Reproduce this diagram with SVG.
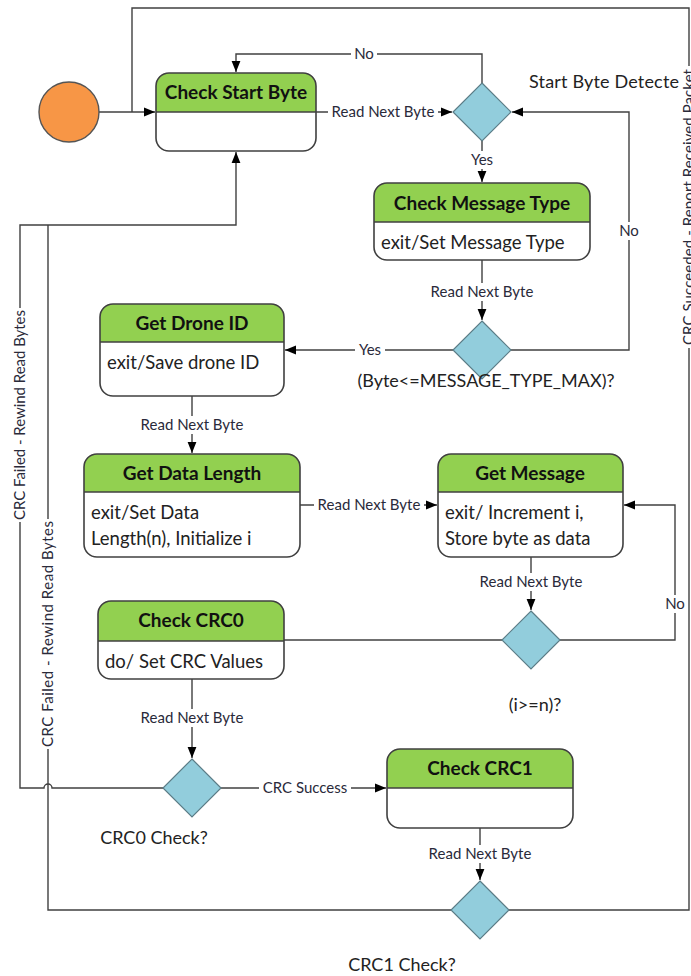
<svg xmlns="http://www.w3.org/2000/svg" width="691" height="976" viewBox="0 0 691 976">
<style>
.bg{fill:#ffffff}
.box{fill:none;stroke:#404040;stroke-width:1.6}
.body{fill:#ffffff;stroke:none}
.hdr{fill:#92D050;stroke:none}
.div{stroke:#404040;stroke-width:1.4}
.dia{fill:#92CDDC;stroke:#5b7c86;stroke-width:1.2}
.ln{fill:none;stroke:#404040;stroke-width:1.4}
.ttl{font-family:Lato,"Liberation Sans",sans-serif;font-weight:bold;font-size:19px;fill:#111;text-anchor:middle}
.txt{font-family:Lato,"Liberation Sans",sans-serif;font-size:18.5px;fill:#222}
.lbl{font-family:Lato,"Liberation Sans",sans-serif;font-size:15px;fill:#2a2a3a;text-anchor:middle}
.big{font-family:Lato,"Liberation Sans",sans-serif;font-size:18px;fill:#222}
.lb{fill:#ffffff}
</style>
<defs>
<marker id="arr" viewBox="0 0 10 10" refX="10" refY="5" markerWidth="11" markerHeight="11" markerUnits="userSpaceOnUse" orient="auto">
<path d="M0,1 L10,5 L0,9 z" fill="#000"/>
</marker>
</defs>
<rect class="bg" x="0" y="0" width="691" height="976"/>

<g id="connectors">
<path class="ln" d="M99,112 H155" marker-end="url(#arr)"/>
<path class="ln" d="M316,112 H452" marker-end="url(#arr)"/>
<path class="ln" d="M482,83 V54 H236 V72" marker-end="url(#arr)"/>
<path class="ln" d="M482,141 V182" marker-end="url(#arr)"/>
<path class="ln" d="M482,260 V320" marker-end="url(#arr)"/>
<path class="ln" d="M511,350 H629 V112 H512" marker-end="url(#arr)"/>
<path class="ln" d="M453,350 H285" marker-end="url(#arr)"/>
<path class="ln" d="M192,396 V453" marker-end="url(#arr)"/>
<path class="ln" d="M300,505 H437" marker-end="url(#arr)"/>
<path class="ln" d="M531,557 V610" marker-end="url(#arr)"/>
<path class="ln" d="M560,640 H675 V505 H624" marker-end="url(#arr)"/>
<path class="ln" d="M502,640 H284"/>
<path class="ln" d="M192,679 V758" marker-end="url(#arr)"/>
<path class="ln" d="M221,788 H386" marker-end="url(#arr)"/>
<path class="ln" d="M163,788 H52 A4,4 0 0 0 44,788 H20 V225 H236 V152" marker-end="url(#arr)"/>
<path class="ln" d="M480,828 V880" marker-end="url(#arr)"/>
<path class="ln" d="M451,910 H48 V225"/>
<path class="ln" d="M509,910 H689 V8 H132 V112"/>

<rect class="lb" x="328" y="103" width="110" height="18"/>
<text class="lbl" x="383" y="117">Read Next Byte</text>
<rect class="lb" x="351" y="45" width="26" height="18"/>
<text class="lbl" x="364" y="59">No</text>
<rect class="lb" x="467" y="151" width="30" height="18"/>
<text class="lbl" x="482" y="165">Yes</text>
<rect class="lb" x="427" y="283" width="110" height="18"/>
<text class="lbl" x="482" y="297">Read Next Byte</text>
<rect class="lb" x="616" y="222" width="26" height="18"/>
<text class="lbl" x="629" y="236">No</text>
<rect class="lb" x="355" y="341" width="30" height="18"/>
<text class="lbl" x="370" y="355">Yes</text>
<rect class="lb" x="137" y="416" width="110" height="18"/>
<text class="lbl" x="192" y="430">Read Next Byte</text>
<rect class="lb" x="314" y="496" width="110" height="18"/>
<text class="lbl" x="369" y="510">Read Next Byte</text>
<rect class="lb" x="476" y="573" width="110" height="18"/>
<text class="lbl" x="531" y="587">Read Next Byte</text>
<rect class="lb" x="662" y="595" width="26" height="18"/>
<text class="lbl" x="675" y="609">No</text>
<rect class="lb" x="137" y="709" width="110" height="18"/>
<text class="lbl" x="192" y="723">Read Next Byte</text>
<rect class="lb" x="259" y="779" width="92" height="18"/>
<text class="lbl" x="305" y="793">CRC Success</text>
<rect class="lb" x="425" y="845" width="110" height="18"/>
<text class="lbl" x="480" y="859">Read Next Byte</text>

<g transform="translate(20,415) rotate(-90)">
<rect class="lb" x="-107" y="-9" width="214" height="18"/>
<text class="lbl" x="0" y="5" textLength="210" lengthAdjust="spacing">CRC Failed - Rewind Read Bytes</text>
</g>
<g transform="translate(48,634) rotate(-90)">
<rect class="lb" x="-115" y="-9" width="230" height="18"/>
<text class="lbl" x="0" y="5" textLength="226" lengthAdjust="spacing">CRC Failed - Rewind Read Bytes</text>
</g>
<g transform="translate(689,207) rotate(-90)">
<rect class="lb" x="-141" y="-9" width="282" height="18"/>
<text class="lbl" x="0" y="5" textLength="276" lengthAdjust="spacing">CRC Succeeded - Report Received Packet</text>
</g>
</g>

<g id="start">
<circle cx="69" cy="112" r="30" fill="#F79646" stroke="#555" stroke-width="1.4"/>
</g>

<g id="check-start-byte">
<rect class="body" x="156" y="73" width="160" height="78" rx="13"/>
<path class="hdr" d="M156,112 V86 A13,13 0 0 1 169,73 H303 A13,13 0 0 1 316,86 V112 Z"/>
<line class="div" x1="156" y1="112" x2="316" y2="112"/>
<rect class="box" x="156" y="73" width="160" height="78" rx="13"/>
<text class="ttl" x="236" y="99">Check Start Byte</text>
</g>

<g id="check-message-type">
<rect class="body" x="374" y="183" width="216" height="77" rx="13"/>
<path class="hdr" d="M374,222 V196 A13,13 0 0 1 387,183 H577 A13,13 0 0 1 590,196 V222 Z"/>
<line class="div" x1="374" y1="222" x2="590" y2="222"/>
<rect class="box" x="374" y="183" width="216" height="77" rx="13"/>
<text class="ttl" x="482" y="210">Check Message Type</text>
<text class="txt" x="381" y="249">exit/Set Message Type</text>
</g>

<g id="get-drone-id">
<rect class="body" x="100" y="304" width="184" height="92" rx="13"/>
<path class="hdr" d="M100,342 V317 A13,13 0 0 1 113,304 H271 A13,13 0 0 1 284,317 V342 Z"/>
<line class="div" x1="100" y1="342" x2="284" y2="342"/>
<rect class="box" x="100" y="304" width="184" height="92" rx="13"/>
<text class="ttl" x="192" y="330">Get Drone ID</text>
<text class="txt" x="107" y="369">exit/Save drone ID</text>
</g>

<g id="get-data-length">
<rect class="body" x="84" y="454" width="216" height="103" rx="13"/>
<path class="hdr" d="M84,492 V467 A13,13 0 0 1 97,454 H287 A13,13 0 0 1 300,467 V492 Z"/>
<line class="div" x1="84" y1="492" x2="300" y2="492"/>
<rect class="box" x="84" y="454" width="216" height="103" rx="13"/>
<text class="ttl" x="192" y="480">Get Data Length</text>
<text class="txt" x="91" y="519">exit/Set Data</text>
<text class="txt" x="91" y="545">Length(n), Initialize i</text>
</g>

<g id="get-message">
<rect class="body" x="438" y="454" width="185" height="103" rx="13"/>
<path class="hdr" d="M438,492 V467 A13,13 0 0 1 451,454 H610 A13,13 0 0 1 623,467 V492 Z"/>
<line class="div" x1="438" y1="492" x2="623" y2="492"/>
<rect class="box" x="438" y="454" width="185" height="103" rx="13"/>
<text class="ttl" x="530" y="480">Get Message</text>
<text class="txt" x="445" y="519">exit/ Increment i,</text>
<text class="txt" x="445" y="545">Store byte as data</text>
</g>

<g id="check-crc0">
<rect class="body" x="98" y="601" width="186" height="78" rx="13"/>
<path class="hdr" d="M98,641 V614 A13,13 0 0 1 111,601 H271 A13,13 0 0 1 284,614 V641 Z"/>
<line class="div" x1="98" y1="641" x2="284" y2="641"/>
<rect class="box" x="98" y="601" width="186" height="78" rx="13"/>
<text class="ttl" x="191" y="627">Check CRC0</text>
<text class="txt" x="105" y="668">do/ Set CRC Values</text>
</g>

<g id="check-crc1">
<rect class="body" x="387" y="749" width="186" height="79" rx="13"/>
<path class="hdr" d="M387,788 V762 A13,13 0 0 1 400,749 H560 A13,13 0 0 1 573,762 V788 Z"/>
<line class="div" x1="387" y1="788" x2="573" y2="788"/>
<rect class="box" x="387" y="749" width="186" height="79" rx="13"/>
<text class="ttl" x="480" y="775">Check CRC1</text>
</g>

<g id="start-byte-decision">
<polygon class="dia" points="482,83 511,112 482,141 453,112"/>
<text class="big" x="529" y="88" textLength="150" lengthAdjust="spacing">Start Byte Detecte</text>
</g>

<g id="message-type-decision">
<polygon class="dia" points="482,321 511,350 482,379 453,350"/>
<text class="big" x="486" y="387" text-anchor="middle">(Byte&lt;=MESSAGE_TYPE_MAX)?</text>
</g>

<g id="length-decision">
<polygon class="dia" points="531,611 560,640 531,669 502,640"/>
<text class="big" x="535" y="711" text-anchor="middle">(i&gt;=n)?</text>
</g>

<g id="crc0-decision">
<polygon class="dia" points="192,759 221,788 192,817 163,788"/>
<text class="big" x="154" y="844" text-anchor="middle">CRC0 Check?</text>
</g>

<g id="crc1-decision">
<polygon class="dia" points="480,881 509,910 480,939 451,910"/>
<text class="big" x="402" y="971" text-anchor="middle">CRC1 Check?</text>
</g>
</svg>
